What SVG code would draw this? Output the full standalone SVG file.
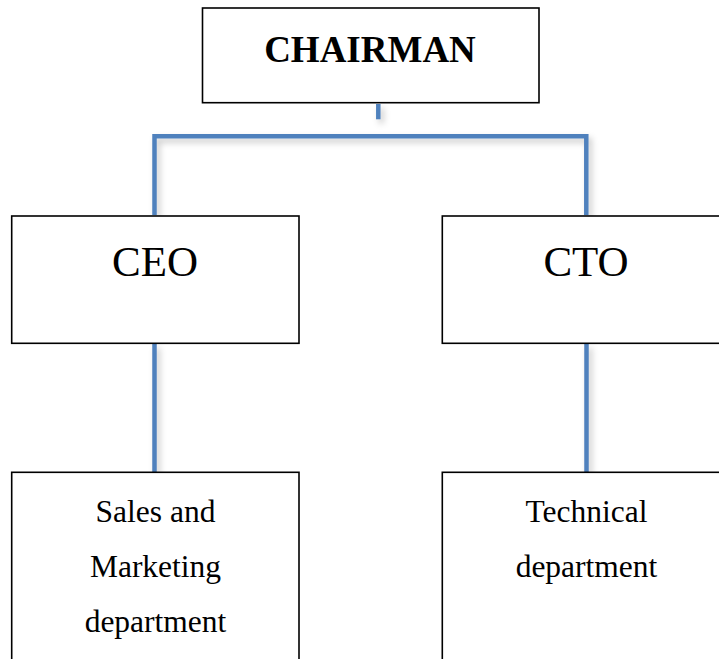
<svg xmlns="http://www.w3.org/2000/svg" width="719" height="659" viewBox="0 0 719 659">
  <defs>
    <filter id="shadow" filterUnits="userSpaceOnUse" x="0" y="0" width="719" height="659">
      <feDropShadow dx="3" dy="4" stdDeviation="3" flood-color="#000" flood-opacity="0.22"/>
    </filter>
  </defs>
  <style>
    .box { fill: #ffffff; stroke: #000000; stroke-width: 1.6; }
    .conn { fill: none; stroke: #4F81BD; stroke-width: 4.5; filter: url(#shadow); }
    .t { font-family: "Liberation Serif", "Times New Roman", serif; fill: #000000; text-anchor: middle; }
    .title { font-size: 37px; font-weight: bold; }
    .big { font-size: 43px; }
    .small { font-size: 31.5px; }
  </style>
  <rect width="719" height="659" fill="#ffffff"/>
  <g id="connectors">
    <line class="conn" x1="378.3" y1="104" x2="378.3" y2="119.3"/>
    <path class="conn" d="M154.5,215 V136.3 H586.3 V215"/>
    <line class="conn" x1="154.5" y1="344" x2="154.5" y2="472"/>
    <line class="conn" x1="586.5" y1="344" x2="586.5" y2="472"/>
  </g>
  <g id="chairman">
    <rect class="box" x="202.5" y="8" width="336.5" height="94.7"/>
    <text class="t title" x="370" y="61.7">CHAIRMAN</text>
  </g>
  <g id="ceo">
    <rect class="box" x="11.7" y="216" width="287.3" height="127.3"/>
    <text class="t big" x="155" y="276">CEO</text>
  </g>
  <g id="cto">
    <rect class="box" x="442.3" y="216" width="330" height="127.3"/>
    <text class="t big" x="586" y="276">CTO</text>
  </g>
  <g id="sales">
    <rect class="box" x="11.7" y="472.3" width="287.3" height="240"/>
    <text class="t small" x="155.5" y="521.7">Sales and</text>
    <text class="t small" x="155.5" y="576.7">Marketing</text>
    <text class="t small" x="155.5" y="631.7">department</text>
  </g>
  <g id="technical">
    <rect class="box" x="442.3" y="472.3" width="330" height="240"/>
    <text class="t small" x="586.5" y="521.7">Technical</text>
    <text class="t small" x="586.5" y="576.7">department</text>
  </g>
</svg>
